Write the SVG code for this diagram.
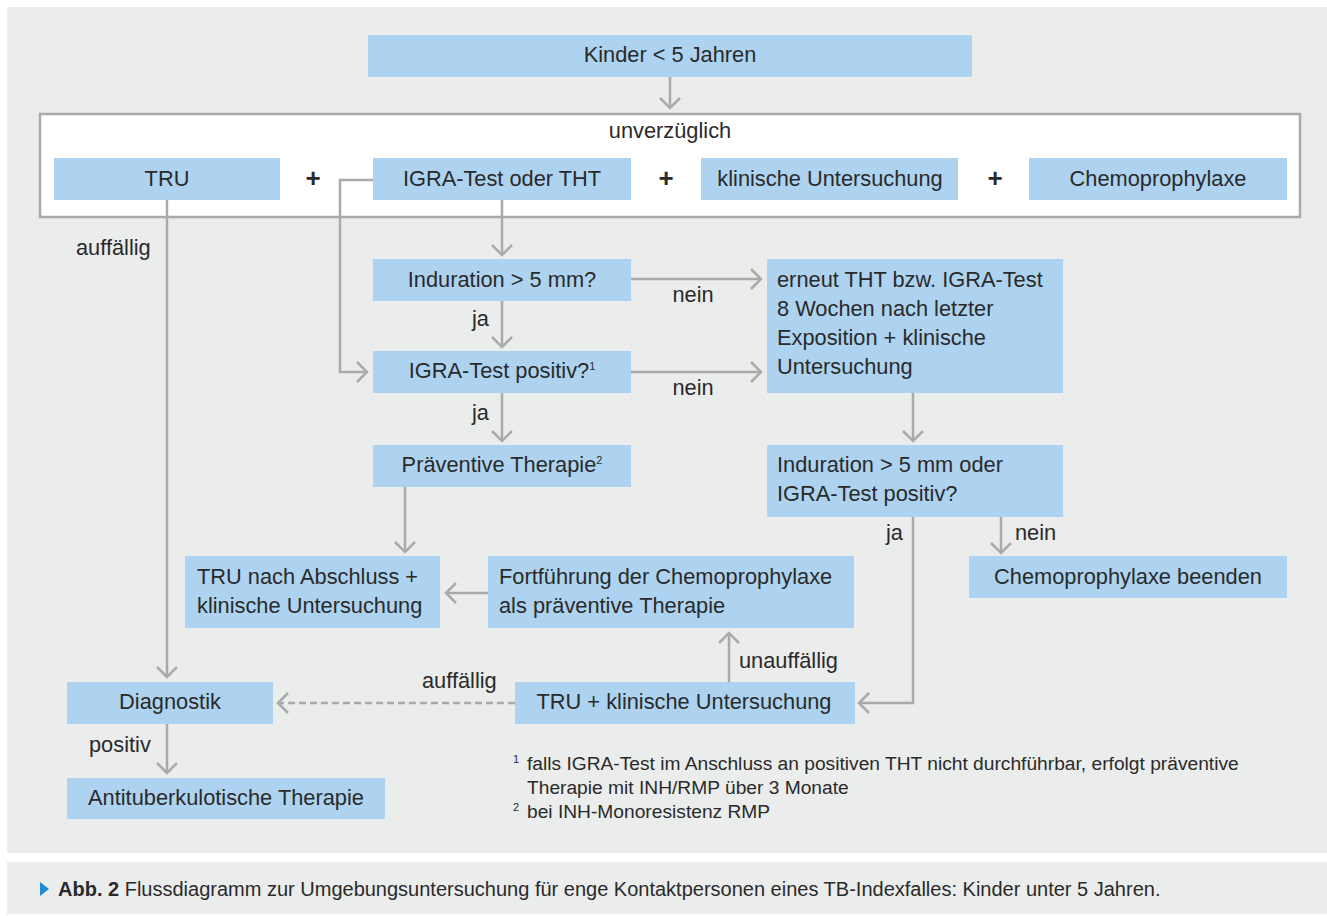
<svg xmlns="http://www.w3.org/2000/svg" width="1327" height="916" viewBox="0 0 1327 916">
<style>
.bg{fill:#EBECEC}
.box{fill:#ADD3F0}
.t{font-family:"Liberation Sans",Arial,sans-serif;font-size:21.8px;fill:#2a2a2a}
.c{text-anchor:middle}
.plus{font-family:"Liberation Sans",Arial,sans-serif;font-size:26px;font-weight:bold;fill:#2a2a2a;text-anchor:middle}
.fn{font-family:"Liberation Sans",Arial,sans-serif;font-size:19.2px;fill:#2a2a2a}
.fnsup{font-family:"Liberation Sans",Arial,sans-serif;font-size:11px;fill:#2a2a2a}
.sup{font-size:11px}
.cap{font-family:"Liberation Sans",Arial,sans-serif;font-size:20px;fill:#2a2a2a}
.ln{fill:none;stroke:#A9AAAB;stroke-width:2.5}
.dash{stroke-dasharray:7 4}
</style>
<defs>
<marker id="ah" markerUnits="userSpaceOnUse" markerWidth="16" markerHeight="26" viewBox="-3 -3 16 26" refX="10" refY="10" orient="auto">
<path d="M0,0 L10,10 L0,20" fill="none" stroke="#A9AAAB" stroke-width="2.5"/>
</marker>
</defs>
<rect x="0" y="0" width="1327" height="916" fill="#ffffff"/>
<rect class="bg" x="7" y="7" width="1320" height="846"/>
<rect class="bg" x="7" y="862" width="1320" height="52"/>
<rect x="40" y="114" width="1260" height="103" fill="#ffffff" stroke="#A9AAAB" stroke-width="2.5"/>
<text class="t c" x="670" y="138">unverzüglich</text>
<g id="connectors">
<line class="ln" x1="670" y1="77" x2="670" y2="108" marker-end="url(#ah)"/>
<line class="ln" x1="502" y1="200" x2="502" y2="255" marker-end="url(#ah)"/>
<path class="ln" d="M373,180 H340 V372 H367" marker-end="url(#ah)"/>
<line class="ln" x1="502" y1="301" x2="502" y2="347" marker-end="url(#ah)"/>
<line class="ln" x1="502" y1="393" x2="502" y2="441" marker-end="url(#ah)"/>
<line class="ln" x1="631" y1="279" x2="761" y2="279" marker-end="url(#ah)"/>
<line class="ln" x1="631" y1="372" x2="761" y2="372" marker-end="url(#ah)"/>
<line class="ln" x1="913" y1="393" x2="913" y2="441" marker-end="url(#ah)"/>
<path class="ln" d="M913,517 V703 H859" marker-end="url(#ah)"/>
<line class="ln" x1="1001" y1="517" x2="1001" y2="553" marker-end="url(#ah)"/>
<line class="ln" x1="405" y1="487" x2="405" y2="552" marker-end="url(#ah)"/>
<line class="ln" x1="488" y1="593" x2="446" y2="593" marker-end="url(#ah)"/>
<line class="ln" x1="729" y1="682" x2="729" y2="633" marker-end="url(#ah)"/>
<line class="ln dash" x1="515" y1="703" x2="278" y2="703" marker-end="url(#ah)"/>
<line class="ln" x1="167" y1="200" x2="167" y2="677" marker-end="url(#ah)"/>
<line class="ln" x1="167" y1="724" x2="167" y2="773" marker-end="url(#ah)"/>
<text class="t" x="76" y="255">auffällig</text>
<text class="t" x="472" y="326">ja</text>
<text class="t" x="472" y="420">ja</text>
<text class="t c" x="693" y="302">nein</text>
<text class="t c" x="693" y="395">nein</text>
<text class="t" x="886" y="540">ja</text>
<text class="t" x="1015" y="540">nein</text>
<text class="t" x="739" y="668">unauffällig</text>
<text class="t" x="422" y="688">auffällig</text>
<text class="t" x="89" y="752">positiv</text>
</g>
<g id="n-kinder"><rect class="box" x="368" y="35" width="604" height="42"/><text class="t c" x="670" y="62">Kinder &lt; 5 Jahren</text></g>
<g id="n-tru"><rect class="box" x="54" y="158" width="226" height="42"/><text class="t c" x="167" y="186">TRU</text></g>
<text class="plus" x="313" y="187">+</text>
<g id="n-igra"><rect class="box" x="373" y="158" width="258" height="42"/><text class="t c" x="502" y="186">IGRA-Test oder THT</text></g>
<text class="plus" x="666" y="187">+</text>
<g id="n-klin"><rect class="box" x="701" y="158" width="257" height="42"/><text class="t c" x="830" y="186">klinische Untersuchung</text></g>
<text class="plus" x="995" y="187">+</text>
<g id="n-chemo"><rect class="box" x="1029" y="158" width="258" height="42"/><text class="t c" x="1158" y="186">Chemoprophylaxe</text></g>
<g id="n-ind"><rect class="box" x="373" y="259" width="258" height="42"/><text class="t c" x="502" y="287">Induration &gt; 5 mm?</text></g>
<g id="n-igrapos"><rect class="box" x="373" y="351" width="258" height="42"/><text class="t c" x="502" y="378">IGRA-Test positiv?<tspan class="sup" dy="-8">1</tspan></text></g>
<g id="n-praev"><rect class="box" x="373" y="445" width="258" height="42"/><text class="t c" x="502" y="472">Präventive Therapie<tspan class="sup" dy="-8">2</tspan></text></g>
<g id="n-erneut"><rect class="box" x="767" y="259" width="296" height="134"/>
<text class="t" x="777" y="287">erneut THT bzw. IGRA-Test</text>
<text class="t" x="777" y="316">8 Wochen nach letzter</text>
<text class="t" x="777" y="345">Exposition + klinische</text>
<text class="t" x="777" y="374">Untersuchung</text></g>
<g id="n-indoder"><rect class="box" x="767" y="445" width="296" height="72"/>
<text class="t" x="777" y="472">Induration &gt; 5 mm oder</text>
<text class="t" x="777" y="501">IGRA-Test positiv?</text></g>
<g id="n-beenden"><rect class="box" x="969" y="556" width="318" height="42"/><text class="t c" x="1128" y="584">Chemoprophylaxe beenden</text></g>
<g id="n-trunach"><rect class="box" x="185" y="556" width="255" height="72"/>
<text class="t" x="197" y="584">TRU nach Abschluss +</text>
<text class="t" x="197" y="613">klinische Untersuchung</text></g>
<g id="n-fort"><rect class="box" x="488" y="556" width="366" height="72"/>
<text class="t" x="499" y="584">Fortführung der Chemoprophylaxe</text>
<text class="t" x="499" y="613">als präventive Therapie</text></g>
<g id="n-diag"><rect class="box" x="67" y="682" width="206" height="42"/><text class="t c" x="170" y="709">Diagnostik</text></g>
<g id="n-truklin"><rect class="box" x="515" y="682" width="340" height="42"/><text class="t c" x="684" y="709">TRU + klinische Untersuchung</text></g>
<g id="n-anti"><rect class="box" x="67" y="778" width="318" height="41"/><text class="t c" x="226" y="805">Antituberkulotische Therapie</text></g>
<g id="footnotes">
<text class="fnsup" x="513" y="763">1</text>
<text class="fn" x="527" y="770">falls IGRA-Test im Anschluss an positiven THT nicht durchführbar, erfolgt präventive</text>
<text class="fn" x="527" y="794">Therapie mit INH/RMP über 3 Monate</text>
<text class="fnsup" x="513" y="811">2</text>
<text class="fn" x="527" y="818">bei INH-Monoresistenz RMP</text>
</g>
<g id="caption">
<path d="M40,882 L49,889 L40,896 Z" fill="#1E8AD2"/>
<text class="cap" x="58" y="896"><tspan font-weight="bold">Abb. 2</tspan>  Flussdiagramm zur Umgebungsuntersuchung für enge Kontaktpersonen eines TB-Indexfalles: Kinder unter 5 Jahren.</text>
</g>
</svg>
